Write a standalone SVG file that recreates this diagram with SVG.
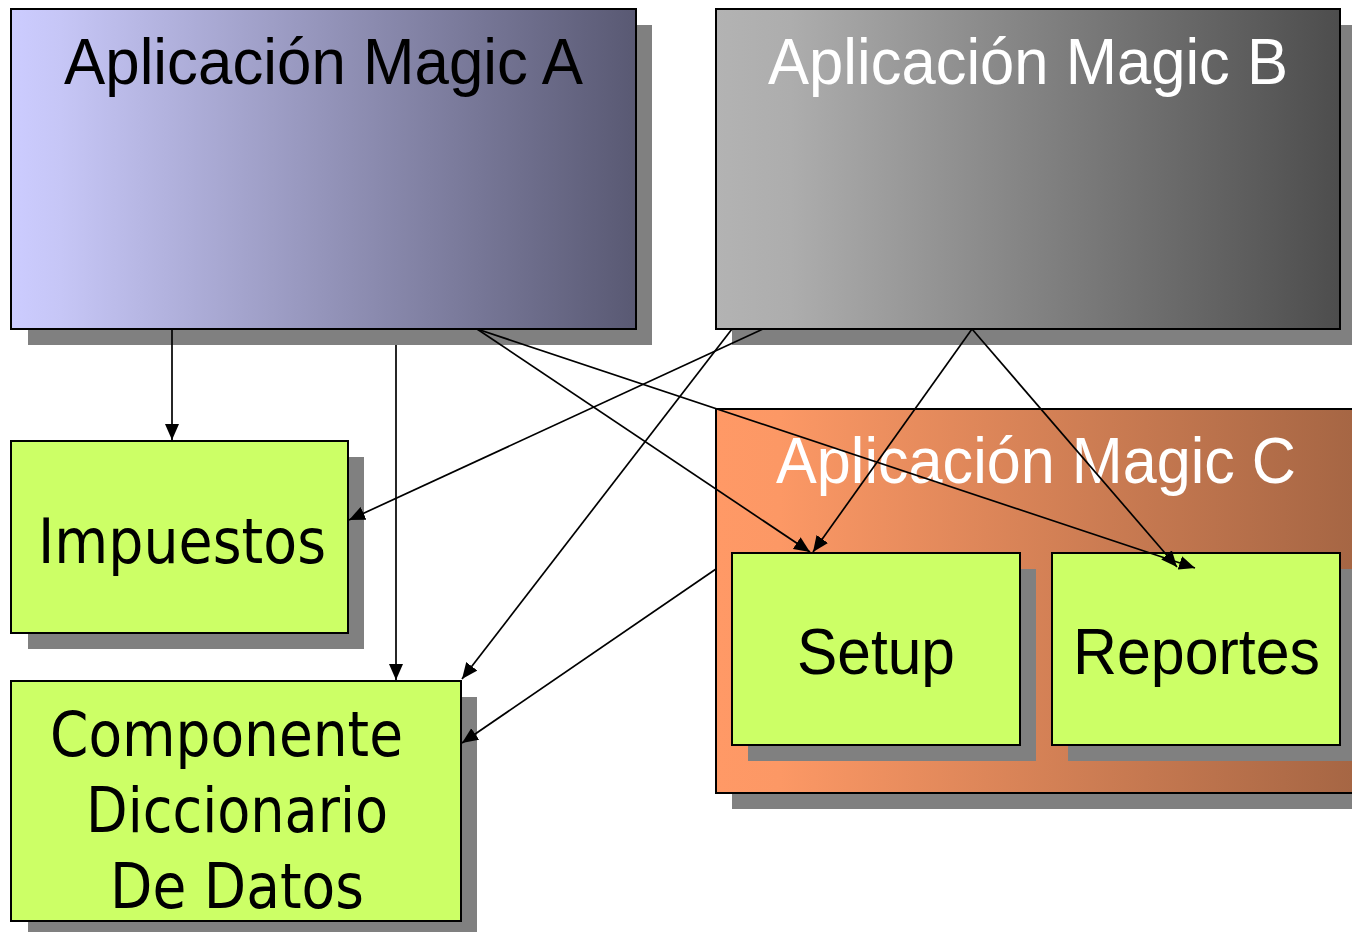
<svg xmlns="http://www.w3.org/2000/svg" width="1352" height="932" viewBox="0 0 1352 932">
<style>
.shadow{fill:#808080}
.box{stroke:#000;stroke-width:2}
.green{fill:#CCFF66}
.t{font-family:"DejaVu Sans","Liberation Sans",sans-serif;font-size:63px}
.n{font-family:"Liberation Sans",Arial,sans-serif;font-size:64px}
.dark{fill:#000}
.light{fill:#fff}
.conn line{stroke:#000;stroke-width:1.7;fill:none;marker-end:url(#arr)}
</style>
<defs>
<linearGradient id="gA" x1="0" y1="0" x2="1" y2="0">
<stop offset="0" stop-color="#CCCCFF"/><stop offset="0.08" stop-color="#C6C6F6"/><stop offset="1" stop-color="#595973"/>
</linearGradient>
<linearGradient id="gB" x1="0" y1="0" x2="1" y2="0">
<stop offset="0" stop-color="#B3B3B3"/><stop offset="0.12" stop-color="#ADADAD"/><stop offset="1" stop-color="#4D4D4D"/>
</linearGradient>
<linearGradient id="gC" x1="716" y1="0" x2="1352" y2="0" gradientUnits="userSpaceOnUse">
<stop offset="0" stop-color="#FF9966"/><stop offset="0.1" stop-color="#FC9865"/><stop offset="1" stop-color="#A66644"/>
</linearGradient>
<marker id="arr" markerUnits="userSpaceOnUse" markerWidth="18" markerHeight="15" refX="16" refY="7.5" orient="auto">
<path d="M0,0.5 L16,7.5 L0,14.5 Z" fill="#000"/>
</marker>
</defs>

<g id="nodeA">
<rect class="shadow" x="28" y="25" width="624" height="320"/>
<rect class="box" x="11" y="9" width="625" height="320" fill="url(#gA)"/>
<text class="n dark" x="64" y="84" textLength="519" lengthAdjust="spacingAndGlyphs">Aplicación Magic A</text>
</g>

<g id="nodeB">
<rect class="shadow" x="732" y="25" width="624" height="320"/>
<rect class="box" x="716" y="9" width="624" height="320" fill="url(#gB)"/>
<text class="n light" x="768" y="84" textLength="520" lengthAdjust="spacingAndGlyphs">Aplicación Magic B</text>
</g>

<g id="nodeC">
<rect class="shadow" x="732" y="425" width="660" height="384"/>
<rect class="box" x="716" y="409" width="660" height="384" fill="url(#gC)"/>
<text class="n light" x="776" y="483" textLength="520" lengthAdjust="spacingAndGlyphs">Aplicación Magic C</text>
</g>

<g id="nodeSetup">
<rect class="shadow" x="748" y="569" width="288" height="192"/>
<rect class="box green" x="732" y="553" width="288" height="192"/>
<text class="n dark" x="797" y="674" textLength="158" lengthAdjust="spacingAndGlyphs">Setup</text>
</g>

<g id="nodeReportes">
<rect class="shadow" x="1068" y="569" width="288" height="192"/>
<rect class="box green" x="1052" y="553" width="288" height="192"/>
<text class="n dark" x="1073" y="674" textLength="247" lengthAdjust="spacingAndGlyphs">Reportes</text>
</g>

<g id="nodeImpuestos">
<rect class="shadow" x="28" y="457" width="336" height="192"/>
<rect class="box green" x="11" y="441" width="337" height="192"/>
<text class="t dark" x="38" y="563" textLength="288" lengthAdjust="spacingAndGlyphs">Impuestos</text>
</g>

<g id="nodeComponente">
<rect class="shadow" x="28" y="697" width="449" height="240"/>
<rect class="box green" x="11" y="681" width="450" height="240"/>
<text class="t dark" x="50" y="756" textLength="353" lengthAdjust="spacingAndGlyphs">Componente</text>
<text class="t dark" x="86" y="832" textLength="302" lengthAdjust="spacingAndGlyphs">Diccionario</text>
<text class="t dark" x="110" y="908" textLength="254" lengthAdjust="spacingAndGlyphs">De Datos</text>
</g>

<g id="connectors" class="conn">
<line x1="172" y1="329" x2="172" y2="440"/>
<line x1="396" y1="345" x2="396" y2="680"/>
<line x1="477" y1="329" x2="810" y2="552"/>
<line x1="477" y1="329" x2="1195" y2="568"/>
<line x1="763" y1="329" x2="349" y2="520"/>
<line x1="732" y1="329" x2="462" y2="679"/>
<line x1="972" y1="329" x2="813" y2="552"/>
<line x1="972" y1="329" x2="1177" y2="567"/>
<line x1="716" y1="569" x2="462" y2="743"/>
</g>
</svg>
